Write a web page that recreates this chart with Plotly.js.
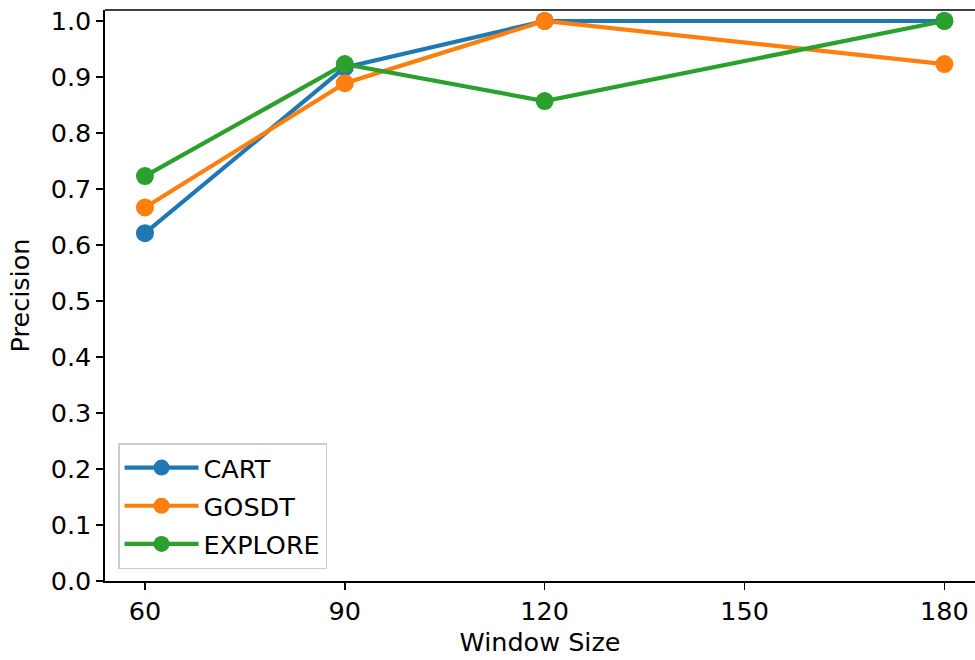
<!DOCTYPE html>
<html>
<head>
<meta charset="utf-8">
<script src="https://cdn.plot.ly/plotly-3.0.1.min.js"></script>
<style>html,body{margin:0;padding:0;background:#fff;}#chart{width:975px;height:660px;}</style>
</head>
<body>
<div id="chart"></div>
<script>
const windowSizes = [60, 90, 120, 180];
const cartPrecision = [0.621, 0.917, 1.0, 1.0];
const gosdtPrecision = [0.667, 0.889, 1.0, 0.923];
const explorePrecision = [0.723, 0.923, 0.857, 1.0];
const seriesNames = ["CART", "GOSDT", "EXPLORE"];
const seriesColors = ["#1f77b4", "#ff7f0e", "#2ca02c"];
const xTicks = [60, 90, 120, 150, 180];
const yTicks = [0, 0.1, 0.2, 0.3, 0.4, 0.5, 0.6, 0.7, 0.8, 0.9, 1.0];

const values = [cartPrecision, gosdtPrecision, explorePrecision];
const traces = values.map((v, i) => ({
  x: windowSizes, y: v, name: seriesNames[i], type: "scatter", mode: "lines+markers",
  legendgroup: "g" + i,
  line: {color: seriesColors[i], width: 4.2},
  marker: {color: seriesColors[i], size: 18}
}));

const font = {family: "DejaVu Sans, sans-serif", size: 25.5, color: "#000"};
const layout = {
  width: 975, height: 660,
  margin: {l: 105, r: 0, t: 10, b: 79},
  paper_bgcolor: "#fff", plot_bgcolor: "#fff",
  font: font,
  showlegend: true,
  xaxis: {
    range: [54, 184.6], tickvals: xTicks, ticktext: xTicks.map(String),
    showgrid: false, zeroline: false, showline: true, linecolor: "#000", linewidth: 1.6,
    ticks: "outside", ticklen: 7, tickwidth: 1.6, tickcolor: "#000",
    mirror: false,
    title: {text: "Window Size", font: font, standoff: 8},
    tickfont: font
  },
  yaxis: {
    range: [0, 1.0196], tickvals: yTicks, ticktext: yTicks.map(v => v.toFixed(1)),
    showgrid: false, zeroline: false, showline: true, linecolor: "#000", linewidth: 1.6,
    ticks: "outside", ticklen: 7, tickwidth: 1.6, tickcolor: "#000",
    title: {text: "Precision", font: font, standoff: 14},
    tickfont: font
  },
  shapes: [
    {type: "line", xref: "paper", yref: "paper", x0: 0, x1: 1, y0: 1, y1: 1, line: {color: "#000", width: 1.6}}
  ],
  legend: {
    x: 0.015, y: 0.021, xanchor: "left", yanchor: "bottom",
    bgcolor: "rgba(255,255,255,0.8)", bordercolor: "#cccccc", borderwidth: 1.5,
    font: font, traceorder: "grouped", tracegroupgap: 2, itemwidth: 74
  }
};

Plotly.newPlot("chart", traces, layout, {displayModeBar: false, staticPlot: true});
</script>
</body>
</html>
